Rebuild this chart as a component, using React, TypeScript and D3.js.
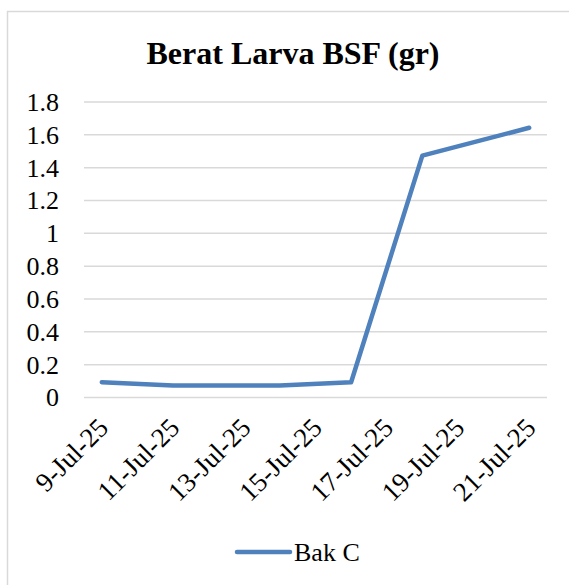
import React, { useRef, useEffect } from 'react';
import * as d3 from 'd3';

// data
const dates = ['2025-07-09', '2025-07-11', '2025-07-14', '2025-07-16', '2025-07-18', '2025-07-21'];
const bakC = [0.09, 0.07, 0.07, 0.09, 1.47, 1.64];
const tickDates = ['2025-07-09', '2025-07-11', '2025-07-13', '2025-07-15', '2025-07-17', '2025-07-19', '2025-07-21'];
const yTicks = [0, 0.2, 0.4, 0.6, 0.8, 1, 1.2, 1.4, 1.6, 1.8];
const title = 'Berat Larva BSF (gr)';
const seriesName = 'Bak C';

const W = 569;
const H = 585;
const FONT = '"Liberation Serif", "Times New Roman", serif';
const BLUE = '#4f81bd';
const GRID = '#d9d9d9';

const parse = d3.timeParse('%Y-%m-%d');
const fmt = d3.timeFormat('%-d-%b-%y');

const draw = (svgRef: React.RefObject<SVGSVGElement>) => {
  const svgEl = d3.select(svgRef.current);
  svgEl.selectAll('*').remove();

  const margin = { left: 84, right: 22, top: 101.5, bottom: 188 };

  // chart border
  svgEl.append('rect')
    .attr('x', 7.5).attr('y', 11.5)
    .attr('width', 700).attr('height', 700)
    .attr('fill', 'white')
    .attr('stroke', GRID)
    .attr('stroke-width', 1.5);

  const first = parse(dates[0]) as Date;
  const last = parse(dates[dates.length - 1]) as Date;
  const xScale = d3.scaleTime()
    .domain([d3.timeHour.offset(first, -12), d3.timeHour.offset(last, 12)])
    .range([margin.left, W - margin.right]);

  const yScale = d3.scaleLinear()
    .domain([0, 1.8])
    .range([H - margin.bottom, margin.top]);

  // gridlines + y labels
  const yAxis = d3.axisLeft(yScale)
    .tickValues(yTicks)
    .tickSize(-(xScale.range()[1] - margin.left))
    .tickPadding(25)
    .tickFormat((d) => d3.format('~g')(d as number));

  svgEl.append('g')
    .attr('transform', `translate(${margin.left},0)`)
    .call(yAxis)
    .call((g) => g.select('.domain').remove())
    .call((g) => g.selectAll('line').attr('stroke', GRID).attr('stroke-width', 1.5))
    .call((g) => g.selectAll('text')
      .attr('font-family', FONT)
      .attr('font-size', 26)
      .attr('fill', 'black')
      .attr('dy', '0.34em'));

  // x labels
  const xAxis = d3.axisBottom(xScale)
    .tickValues(tickDates.map((d) => parse(d) as Date))
    .tickSize(0)
    .tickFormat((d) => fmt(d as Date));

  svgEl.append('g')
    .attr('transform', `translate(0,${yScale(0)})`)
    .call(xAxis)
    .call((g) => g.select('.domain').remove())
    .call((g) => g.selectAll('text')
      .attr('font-family', FONT)
      .attr('font-size', 27)
      .attr('fill', 'black')
      .attr('text-anchor', 'end')
      .attr('dy', '0.7em')
      .attr('transform', 'translate(-8,17) rotate(-45)'));

  // series line
  const pts = dates.map((d, i) => ({ date: parse(d) as Date, v: bakC[i] }));
  svgEl.append('path')
    .datum(pts)
    .attr('fill', 'none')
    .attr('stroke', BLUE)
    .attr('stroke-width', 4.5)
    .attr('stroke-linejoin', 'round')
    .attr('stroke-linecap', 'round')
    .attr('d', d3.line<{ date: Date; v: number }>()
      .x((d) => xScale(d.date))
      .y((d) => yScale(d.v)));

  // title
  svgEl.append('text')
    .attr('x', 293).attr('y', 64)
    .attr('text-anchor', 'middle')
    .attr('font-family', FONT)
    .attr('font-weight', 'bold')
    .attr('font-size', 32)
    .attr('fill', 'black')
    .text(title);

  // legend
  const lg = svgEl.append('g').attr('transform', 'translate(237,552)');
  lg.append('line')
    .attr('x1', 0).attr('x2', 53)
    .attr('stroke', BLUE)
    .attr('stroke-width', 4.5)
    .attr('stroke-linecap', 'round');
  lg.append('text')
    .attr('x', 57).attr('y', 0)
    .attr('dy', '0.34em')
    .attr('font-family', FONT)
    .attr('font-size', 26)
    .attr('fill', 'black')
    .text(seriesName);
};

export default function App() {
  const svgRef = useRef<SVGSVGElement>(null);

  useEffect(() => {
    draw(svgRef);
  }, []);

  return (
    <svg
      ref={svgRef}
      width={W}
      height={H}
      style={{ position: 'absolute', left: 0, top: 0, background: 'white' }}
    />
  );
}
